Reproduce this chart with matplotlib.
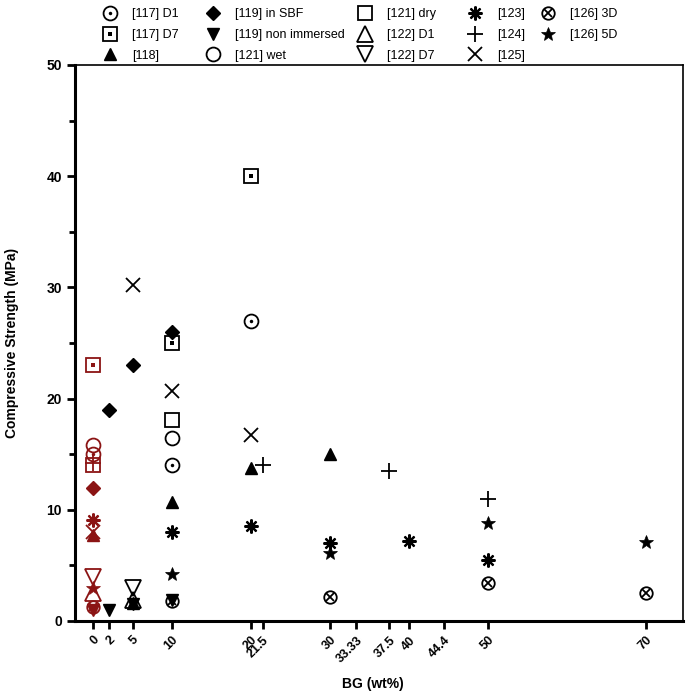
import matplotlib
matplotlib.use('Agg')
import matplotlib.pyplot as plt
from matplotlib.lines import Line2D
from matplotlib.legend_handler import HandlerTuple

plt.rcParams['font.family'] = ['Liberation Sans', 'DejaVu Sans']

# data (BG wt% vs compressive strength MPa)
s117_d1_x = [0, 10, 20]
s117_d1_y = [15.0, 14.0, 27.0]
s117_d7_x = [0, 10, 20]
s117_d7_y = [23.0, 25.0, 40.0]
s118_x = [0, 5, 10, 20, 30]
s118_y = [7.7, 1.6, 10.7, 13.8, 15.0]
s119_sbf_x = [0, 2, 5, 10]
s119_sbf_y = [12.0, 19.0, 23.0, 26.0]
s119_non_x = [0, 2, 5, 10]
s119_non_y = [1.0, 1.0, 1.5, 1.9]
s121_wet_x = [0, 10]
s121_wet_y = [15.8, 16.5]
s121_dry_x = [0, 10]
s121_dry_y = [14.0, 18.1]
s122_d1_x = [0, 5]
s122_d1_y = [2.5, 1.9]
s122_d7_x = [0, 5]
s122_d7_y = [4.0, 3.0]
s123_x = [0, 10, 20, 30, 40, 50]
s123_y = [9.1, 8.0, 8.5, 7.0, 7.2, 5.5]
s124_x = [0, 21.5, 37.5, 50]
s124_y = [14.2, 14.0, 13.5, 11.0]
s125_x = [0, 5, 10, 20]
s125_y = [8.0, 30.2, 20.7, 16.7]
s126_3d_x = [0, 10, 30, 50, 70]
s126_3d_y = [1.3, 1.8, 2.2, 3.4, 2.5]
s126_5d_x = [0, 10, 30, 50, 70]
s126_5d_y = [3.0, 4.2, 6.1, 8.8, 7.1]

xticks = [0, 2, 5, 10, 20, 21.5, 30, 33.33, 37.5, 40, 44.4, 50, 70]
xticklabels = ['0', '2', '5', '10', '20', '21.5', '30', '33.33', '37.5', '40', '44.4', '50', '70']

RED = '#8b1414'
BLACK = 'black'

# marker recipes: list of (marker, size, filled, linewidth)
styles = {
    'odot': [('o', 10, False, 1.3), ('o', 2.5, True, 0)],
    'sdot': [('s', 10, False, 1.3), ('s', 2.2, True, 0)],
    'tri_up': [('^', 9, True, 1.0)],
    'diamond': [('D', 7, True, 1.0)],
    'tri_down': [('v', 9, True, 1.0)],
    'circle': [('o', 10, False, 1.3)],
    'square': [('s', 10, False, 1.3)],
    'tri_up_open': [('^', 11, False, 1.3)],
    'tri_down_open': [('v', 11, False, 1.3)],
    'aster': [((8, 2, 0), 10, False, 1.6)],
    'plus': [('+', 12, False, 1.3)],
    'cross': [('x', 10, False, 1.3)],
    'otimes': [('o', 9, False, 1.3), ('x', 5.5, False, 1.3)],
    'star': [('*', 10, True, 0.5)],
}

series = [
    ('[117] D1', s117_d1_x, s117_d1_y, 'odot'),
    ('[117] D7', s117_d7_x, s117_d7_y, 'sdot'),
    ('[118]', s118_x, s118_y, 'tri_up'),
    ('[119] in SBF', s119_sbf_x, s119_sbf_y, 'diamond'),
    ('[119] non immersed', s119_non_x, s119_non_y, 'tri_down'),
    ('[121] wet', s121_wet_x, s121_wet_y, 'circle'),
    ('[121] dry', s121_dry_x, s121_dry_y, 'square'),
    ('[122] D1', s122_d1_x, s122_d1_y, 'tri_up_open'),
    ('[122] D7', s122_d7_x, s122_d7_y, 'tri_down_open'),
    ('[123]', s123_x, s123_y, 'aster'),
    ('[124]', s124_x, s124_y, 'plus'),
    ('[125]', s125_x, s125_y, 'cross'),
    ('[126] 3D', s126_3d_x, s126_3d_y, 'otimes'),
    ('[126] 5D', s126_5d_x, s126_5d_y, 'star'),
]


def marker_kwargs(m, ms, filled, lw, color):
    return dict(linestyle='none', marker=m, markersize=ms,
                markeredgewidth=lw,
                markeredgecolor=color,
                markerfacecolor=color if filled else 'none')


fig = plt.figure(figsize=(6.88, 6.95), dpi=100)
ax = fig.add_axes([0.109, 0.1065, 0.884, 0.8], zorder=2)

handles = []
labels = []
for label, xs, ys, kind in series:
    ctrl = [(x, y) for x, y in zip(xs, ys) if x == 0]
    rest = [(x, y) for x, y in zip(xs, ys) if x != 0]
    for pts, color in [(ctrl, RED), (rest, BLACK)]:
        if not pts:
            continue
        px = [p[0] for p in pts]
        py = [p[1] for p in pts]
        for m, ms, filled, lw in styles[kind]:
            ax.plot(px, py, clip_on=False, **marker_kwargs(m, ms, filled, lw, color))
    parts = tuple(Line2D([], [], **marker_kwargs(m, ms, filled, lw, BLACK))
                  for m, ms, filled, lw in styles[kind])
    handles.append(parts)
    labels.append(label)

ax.set_xlim(-2.3, 74.7)
ax.set_ylim(0, 50)
ax.set_xticks(xticks)
ax.set_xticklabels(xticklabels, rotation=45, ha='right', rotation_mode='anchor',
                   fontsize=9, fontweight='bold')
ax.set_yticks([0, 10, 20, 30, 40, 50])
ax.set_yticks([5, 15, 25, 35, 45], minor=True)
ax.tick_params(axis='y', labelsize=10, width=2, length=6)
ax.tick_params(axis='y', which='minor', width=2, length=4)
ax.tick_params(axis='x', width=2, length=6)
for t in ax.get_yticklabels():
    t.set_fontweight('bold')

for side in ['left', 'bottom']:
    ax.spines[side].set_linewidth(2.2)
for side in ['top', 'right']:
    ax.spines[side].set_linewidth(1.2)

ax.set_xlabel('BG (wt%)', fontsize=10, fontweight='bold')
ax.xaxis.set_label_coords(0.49, -0.10)
ax.set_ylabel('Compressive Strength (MPa)', fontsize=10, fontweight='bold')
ax.yaxis.set_label_coords(-0.092, 0.5)

# legend: 5 columns placed by hand, like the original layout
col_x = [110, 213, 365, 475, 548]
for i, cx in enumerate(col_x):
    h = handles[3 * i:3 * i + 3]
    lab = labels[3 * i:3 * i + 3]
    fig.legend(h, lab, loc='upper left', bbox_to_anchor=((cx - 9.4) / 688, 0.988),
               borderaxespad=0, borderpad=0, frameon=False, fontsize=9,
               handler_map={tuple: HandlerTuple(ndivide=1, pad=0)},
               handlelength=1.5, handletextpad=1.0, labelspacing=0.7)

fig.savefig('out.png', dpi=100)
